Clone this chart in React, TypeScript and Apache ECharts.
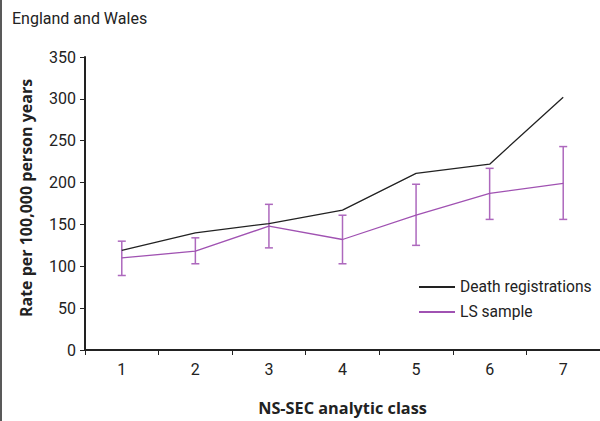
import React, { useEffect, useRef } from "react";
import * as echarts from "echarts";

const categories = ["1", "2", "3", "4", "5", "6", "7"];
const deathRegistrations = [119, 140, 151, 167, 211, 222, 302];
const lsSample = [110, 118, 148, 132, 161, 187, 199];
const lsLower = [89, 103, 122, 103, 125, 156, 156];
const lsUpper = [130, 134, 174, 161, 198, 217, 243];

const PURPLE = "#a052b2";
const PURPLE_ERR = "#ad68bd";
const FONT = "Roboto, 'Noto Sans', sans-serif";
const BOLD_FONT = "'Open Sans', 'Noto Sans', sans-serif";

export default function App() {
  const ref = useRef<HTMLDivElement>(null);
  useEffect(() => {
    if (!ref.current) return;
    const chart = echarts.init(ref.current, null, { renderer: "svg" });
    const errData = categories.map((c, i) => [i, lsLower[i], lsUpper[i]]);
    chart.setOption({
      animation: false,
      textStyle: { fontFamily: FONT },
      graphic: [
        { type: "line", shape: { x1: 1, y1: 0, x2: 1, y2: 421 }, style: { stroke: "#222", lineWidth: 1.5 } },
        { type: "text", left: 12, top: 10, style: { text: "England and Wales", fontSize: 16, fontFamily: FONT, fill: "#222" } },
        {
          type: "text",
          x: 26,
          y: 198,
          rotation: Math.PI / 2,
          style: {
            text: "Rate per 100,000 person years",
            fontSize: 16,
            fontWeight: "bold",
            fontFamily: BOLD_FONT,
            fill: "#222",
            align: "center",
            verticalAlign: "middle",
          },
        },
      ],
      grid: { left: 85, right: 0, top: 57, bottom: 70 },
      legend: {
        orient: "vertical",
        left: 419,
        top: 279,
        padding: 0,
        itemWidth: 36,
        itemHeight: 2,
        itemGap: 9,
        textStyle: { fontSize: 15.6, color: "#222", fontFamily: FONT },
        data: [
          { name: "Death registrations", icon: "rect", itemStyle: { color: "#222" } },
          { name: "LS sample", icon: "rect", itemStyle: { color: PURPLE } },
        ],
      },
      xAxis: {
        type: "category",
        data: categories,
        boundaryGap: true,
        name: "NS-SEC analytic class",
        nameLocation: "middle",
        nameGap: 50,
        nameTextStyle: { fontSize: 16.3, fontWeight: "bold", color: "#222", fontFamily: BOLD_FONT },
        axisLine: { lineStyle: { color: "#222", width: 2 } },
        axisTick: { show: true, length: 5, lineStyle: { color: "#222", width: 1 } },
        axisLabel: { fontSize: 16, color: "#222", margin: 11, fontFamily: FONT },
        splitLine: { show: false },
      },
      yAxis: {
        type: "value",
        min: 0,
        max: 350,
        interval: 50,
        axisLine: { show: true, lineStyle: { color: "#222", width: 2 } },
        axisTick: { show: true, length: 5, lineStyle: { color: "#222", width: 1 } },
        axisLabel: { fontSize: 16, color: "#222", margin: 9, fontFamily: FONT },
        splitLine: { show: false },
      },
      series: [
        {
          name: "Death registrations",
          type: "line",
          data: deathRegistrations,
          symbol: "none",
          lineStyle: { color: "#222", width: 1.3 },
          itemStyle: { color: "#222" },
        },
        {
          name: "LS sample",
          type: "line",
          data: lsSample,
          symbol: "none",
          lineStyle: { color: PURPLE, width: 1.3 },
          itemStyle: { color: PURPLE },
        },
        {
          name: "LS CI",
          type: "custom",
          data: errData,
          renderItem: (params: any, api: any) => {
            const x = api.value(0);
            const lo = api.coord([x, api.value(1)]);
            const hi = api.coord([x, api.value(2)]);
            const cap = 4;
            const style = { stroke: PURPLE_ERR, lineWidth: 1.5 };
            return {
              type: "group",
              children: [
                { type: "line", shape: { x1: lo[0], y1: lo[1], x2: hi[0], y2: hi[1] }, style },
                { type: "line", shape: { x1: lo[0] - cap, y1: lo[1], x2: lo[0] + cap, y2: lo[1] }, style },
                { type: "line", shape: { x1: hi[0] - cap, y1: hi[1], x2: hi[0] + cap, y2: hi[1] }, style },
              ],
            };
          },
          z: 3,
        },
      ],
    });
    return () => chart.dispose();
  }, []);
  return <div ref={ref} style={{ width: 600, height: 421, position: "absolute", left: 0, top: 0, background: "#fff" }} />;
}
